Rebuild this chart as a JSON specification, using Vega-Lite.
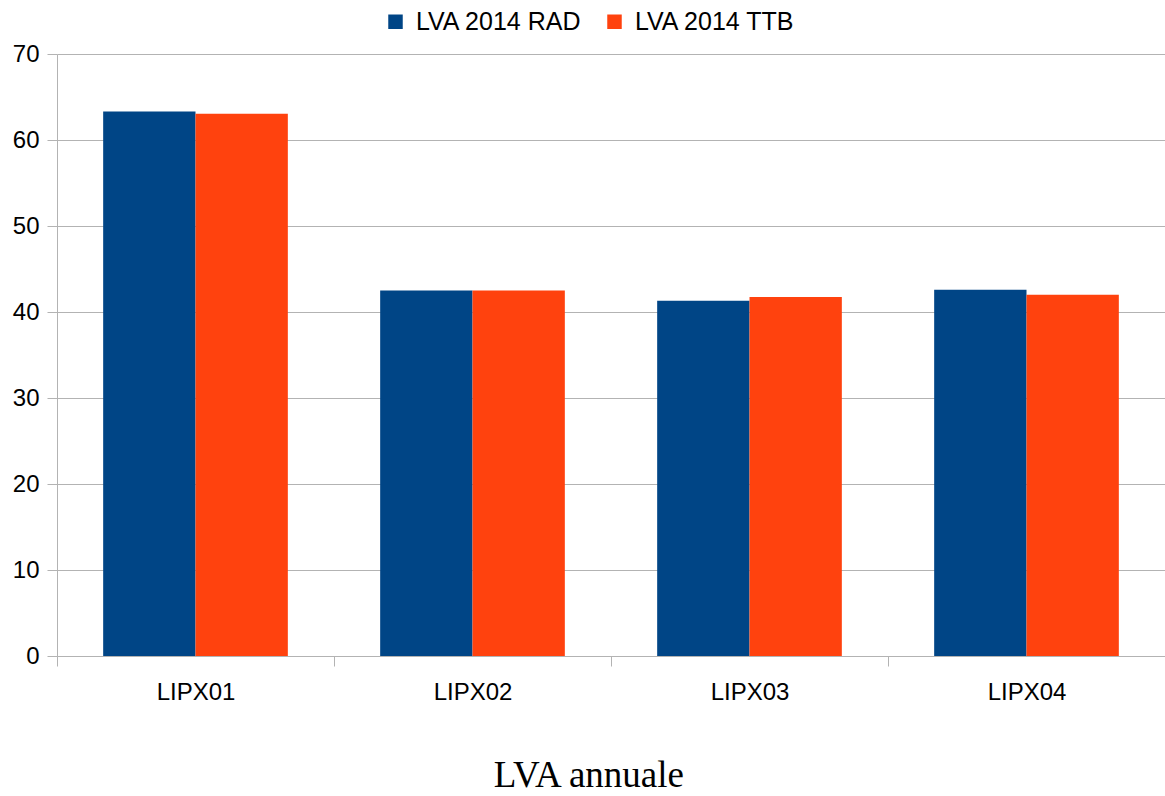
{
  "$schema": "https://vega.github.io/schema/vega-lite/v6.json",
  "width": 1108,
  "height": 602,
  "autosize": "none",
  "padding": {"left": 57, "top": 54, "right": 0, "bottom": 140},
  "background": "white",
  "data": {
    "values": [
      {"site": "LIPX01", "serie": "LVA 2014 RAD", "valeur": 63.3},
      {"site": "LIPX01", "serie": "LVA 2014 TTB", "valeur": 63.05},
      {"site": "LIPX02", "serie": "LVA 2014 RAD", "valeur": 42.5},
      {"site": "LIPX02", "serie": "LVA 2014 TTB", "valeur": 42.5},
      {"site": "LIPX03", "serie": "LVA 2014 RAD", "valeur": 41.3},
      {"site": "LIPX03", "serie": "LVA 2014 TTB", "valeur": 41.75},
      {"site": "LIPX04", "serie": "LVA 2014 RAD", "valeur": 42.6},
      {"site": "LIPX04", "serie": "LVA 2014 TTB", "valeur": 42.0}
    ]
  },
  "title": {
    "text": "LVA annuale",
    "orient": "bottom",
    "anchor": "middle",
    "frame": "bounds",
    "font": "Liberation Serif",
    "fontSize": 37,
    "fontWeight": "normal",
    "color": "black",
    "offset": 54
  },
  "mark": {"type": "bar"},
  "encoding": {
    "x": {
      "field": "site",
      "type": "nominal",
      "scale": {"paddingInner": 0, "paddingOuter": 0},
      "axis": {
        "title": null,
        "labelAngle": 0,
        "labelFont": "Liberation Sans",
        "labelFontSize": 24,
        "labelColor": "black",
        "labelPadding": 14,
        "tickBand": "extent",
        "tickColor": "#b3b3b3",
        "tickSize": 10,
        "domainColor": "#b3b3b3",
        "grid": false
      }
    },
    "xOffset": {
      "field": "serie",
      "type": "nominal",
      "scale": {"paddingInner": 0, "paddingOuter": 0.5}
    },
    "y": {
      "field": "valeur",
      "type": "quantitative",
      "scale": {"domain": [0, 70], "nice": false},
      "axis": {
        "title": null,
        "values": [0, 10, 20, 30, 40, 50, 60, 70],
        "labelFont": "Liberation Sans",
        "labelFontSize": 24,
        "labelColor": "black",
        "labelPadding": 8,
        "tickColor": "#b3b3b3",
        "tickSize": 10,
        "domainColor": "#b3b3b3",
        "gridColor": "#b3b3b3"
      }
    },
    "color": {
      "field": "serie",
      "type": "nominal",
      "scale": {"domain": ["LVA 2014 RAD", "LVA 2014 TTB"], "range": ["#004586", "#ff420e"]},
      "legend": {
        "title": null,
        "orient": "none",
        "direction": "horizontal",
        "legendX": 326,
        "legendY": -45,
        "symbolType": "square",
        "symbolSize": 210,
        "symbolStrokeWidth": 0,
        "labelFont": "Liberation Sans",
        "labelFontSize": 25,
        "labelLimit": 0,
        "labelColor": "black",
        "labelOffset": 8,
        "columnPadding": 20,
        "padding": 0
      }
    }
  },
  "config": {
    "view": {"stroke": null},
    "axis": {"domainWidth": 1, "tickWidth": 1, "gridWidth": 1}
  }
}
